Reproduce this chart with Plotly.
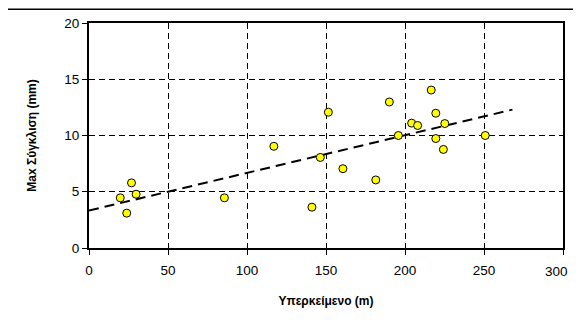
import plotly.graph_objects as go

overburden_m = [19.8, 23.9, 26.9, 29.8, 85.7, 117, 141.1, 146.4, 151.5, 160.7,
                181.5, 190.1, 195.8, 204.2, 208, 216.6, 219.5, 219.5, 225.2, 224.3, 250.8]
max_convergence_mm = [4.46, 3.1, 5.79, 4.78, 4.46, 9.04, 3.63, 8.05, 12.07, 7.05,
                      6.05, 12.98, 10.0, 11.1, 10.89, 14.04, 11.98, 9.73, 11.06, 8.76, 10.0]
trend_x = [0, 268]
trend_y = [3.33, 12.3]
x_ticks = [0, 50, 100, 150, 200, 250, 300]
y_ticks = [0, 5, 10, 15, 20]

fig = go.Figure()
fig.add_trace(go.Scatter(x=trend_x, y=trend_y, mode="lines",
                         line=dict(color="black", width=2, dash="10px,6px"),
                         showlegend=False, hoverinfo="skip"))
fig.add_trace(go.Scatter(x=overburden_m, y=max_convergence_mm, mode="markers",
                         marker=dict(color="#FFFF00", size=8, line=dict(color="black", width=1)),
                         showlegend=False))

font = "Liberation Sans, Arial, sans-serif"
fig.update_layout(
    width=565, height=306,
    margin=dict(l=81, r=8, t=14, b=66),
    paper_bgcolor="white", plot_bgcolor="white",
    font=dict(family=font, color="black", size=13),
    xaxis=dict(range=[0, 300], tickvals=x_ticks, showgrid=True, gridcolor="black", griddash="6px,4px",
               gridwidth=1, showline=True, linecolor="black", linewidth=2, mirror=True,
               ticks="outside", ticklen=5, tickcolor="black", zeroline=False,
               ticklabelstandoff=4,
               title=dict(text="<b>Υπερκείμενο (m)</b>", font=dict(size=12), standoff=19),
               tickfont=dict(size=13.5)),
    yaxis=dict(range=[0, 20], tickvals=y_ticks, showgrid=True, gridcolor="black", griddash="6px,4px",
               gridwidth=1, showline=True, linecolor="black", linewidth=2, mirror=True,
               ticks="outside", ticklen=5, tickcolor="black", zeroline=False,
               title=dict(text="<b>Max Σύγκλιση (mm)</b>", font=dict(size=12), standoff=25),
               tickfont=dict(size=13.5)),
    shapes=[dict(type="rect", xref="paper", yref="paper", x0=-0.177, x1=1.2, y0=-0.5, y1=1.0606,
                 line=dict(color="black", width=1.5), layer="below")],
    annotations=[dict(text=str(x_ticks[-1]), x=x_ticks[-1], xref="x", y=0, yref="paper",
                      xanchor="right", yanchor="top", xshift=7, yshift=-14, showarrow=False,
                      font=dict(size=13.5, family=font, color="black"))],
)
fig.write_html("out.html")
